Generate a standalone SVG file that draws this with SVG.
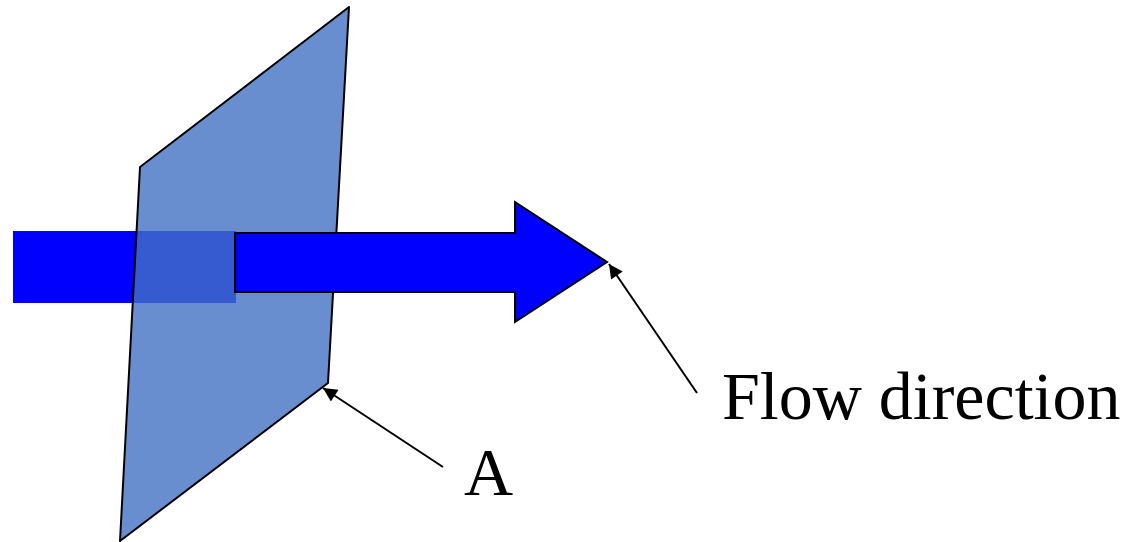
<svg xmlns="http://www.w3.org/2000/svg" width="1138" height="542" viewBox="0 0 1138 542">
<defs>
<style>
.lead{stroke:#000;stroke-width:2;fill:none}
.lbl{font-family:"Liberation Serif","Times New Roman",serif;font-size:68px;fill:#000}
</style>
<marker id="ah" viewBox="0 0 10 10" refX="10" refY="5" markerWidth="8" markerHeight="7" orient="auto" markerUnits="strokeWidth">
<path d="M0,0 L10,5 L0,10 z" fill="#000"/>
</marker>
</defs>
<rect width="1138" height="542" fill="#fff"/>
<g id="flow-tail">
<rect x="13" y="231" width="223" height="72" fill="#0000FF"/>
</g>
<g id="plane-A">
<polygon points="349,7 140,167 120,541 328,383" fill="#4472C4" fill-opacity="0.8" stroke="#000" stroke-width="2" stroke-linejoin="round"/>
</g>
<g id="flow-arrow">
<polygon points="235,233 515,233 515,202 607,262 515,322 515,292 235,292" fill="#0000FF" stroke="#000" stroke-width="2"/>
</g>
<g id="connectors">
<line class="lead" x1="697" y1="393" x2="609" y2="264" marker-end="url(#ah)"/>
<line class="lead" x1="443" y1="467" x2="323" y2="388" marker-end="url(#ah)"/>
</g>
<g id="label-flow"><text class="lbl" x="722" y="419">Flow direction</text></g>
<g id="label-A"><text class="lbl" x="464" y="495">A</text></g>
</svg>
